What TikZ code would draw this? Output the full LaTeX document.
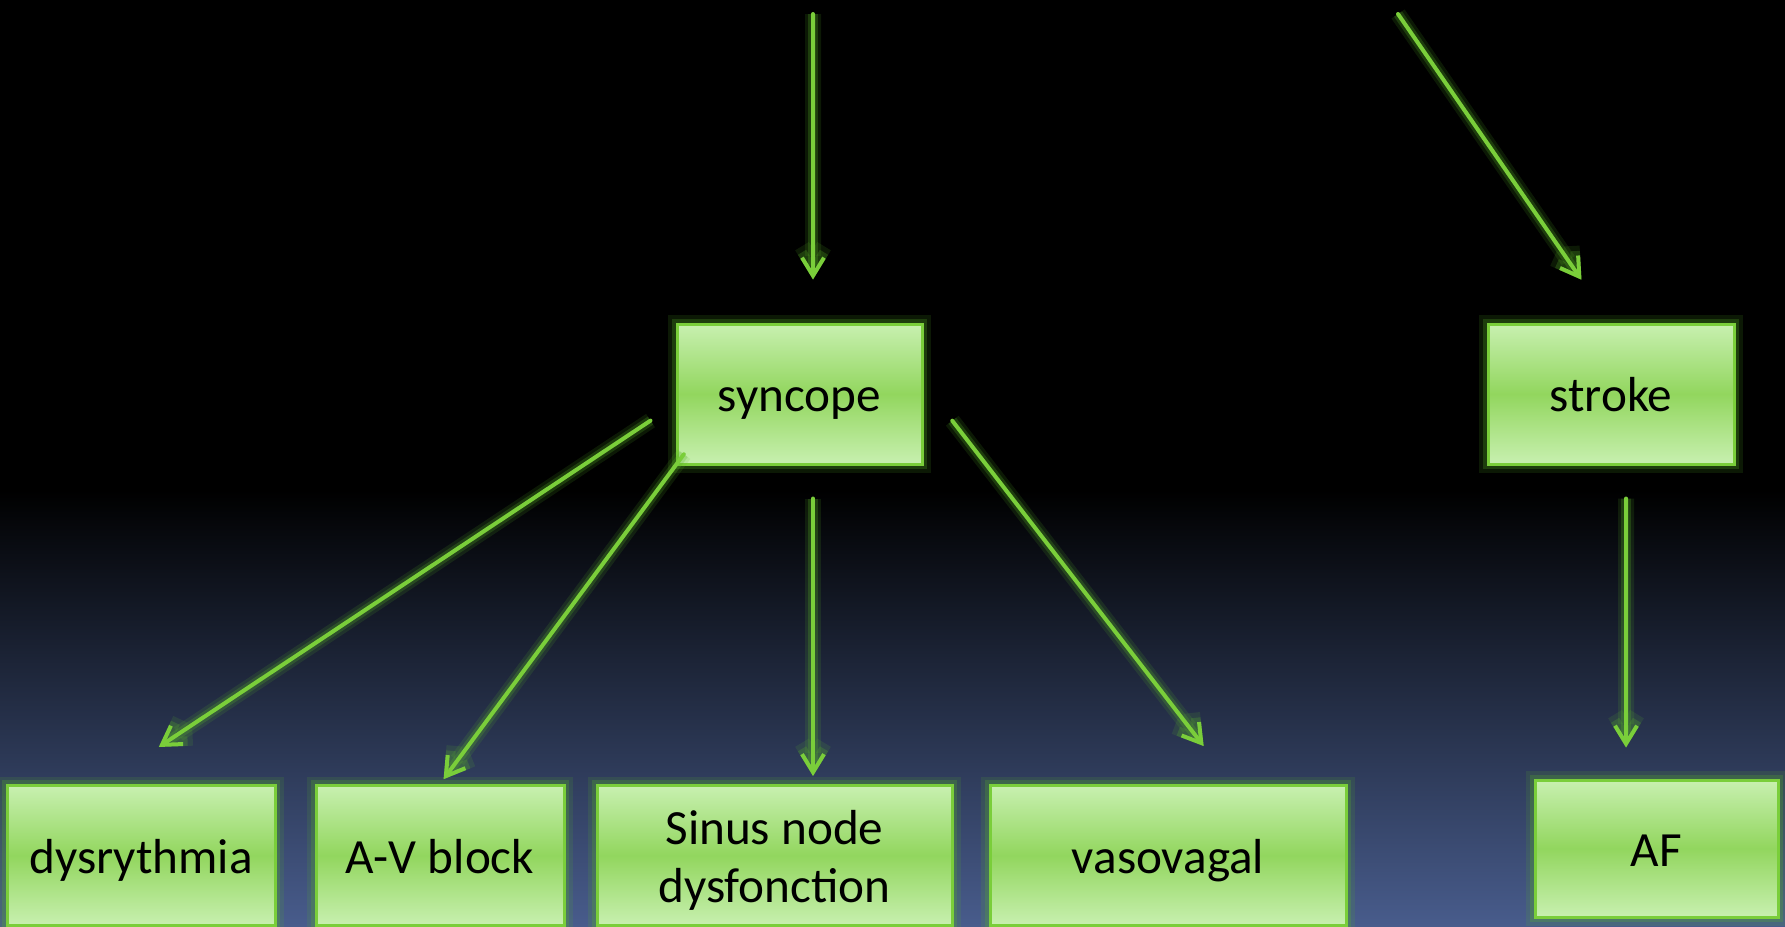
\documentclass[tikz,border=0pt]{standalone}
\usepackage{fontspec}
\setmainfont{Carlito}
\usetikzlibrary{arrows.meta, positioning, calc}

\definecolor{boxgreen}{RGB}{146,214,94}
\definecolor{boxlight}{RGB}{200,240,176}
\definecolor{linegreen}{RGB}{122,206,58}
\definecolor{glowgreen}{RGB}{90,180,40}
\definecolor{bgblue}{RGB}{72,92,140}

\tikzset{
    glow/.style={preaction={draw=glowgreen, line width=#1, opacity=0.14}, preaction={draw=glowgreen, line width=0.6*#1, opacity=0.24}},
    box/.style={rectangle, draw=linegreen, line width=0.03cm, top color=boxlight, bottom color=boxlight, middle color=boxgreen, text=black, align=center, inner sep=0pt, font=\fontsize{14}{16.5}\selectfont, glow=0.18cm},
    word/.style={box, text height=12pt, text depth=2pt},
    arrow/.style={-{Straight Barb[length=0.18cm, width=0.22cm]}, draw=linegreen, line width=0.04cm, line cap=round, glow=0.16cm}
}

\begin{document}
\begin{tikzpicture}
                        % background
                        \fill[black] (0, 0) rectangle (17.85, -4.9);
                        \shade[top color=black, bottom color=bgblue] (0, -4.9) rectangle (17.85, -9.26);
                        \useasboundingbox (0, 0) rectangle (17.85, -9.26);

                        \node[word, minimum width=2.45cm, minimum height=1.40cm] (syncope) at (7.995, -3.94) {syncope};
                        \node[word, minimum width=2.46cm, minimum height=1.40cm] (stroke) at (16.11, -3.94) {stroke};
                        \node[word, minimum width=2.68cm, minimum height=1.40cm] (dys) at (1.41, -8.555) {dysrythmia};
                        \node[word, minimum width=2.48cm, minimum height=1.40cm] (avb) at (4.40, -8.555) {A-V block};
                        \node[box, minimum width=3.55cm, minimum height=1.40cm, text height=28.5pt, text depth=2pt] (sinus) at (7.745, -8.555) {Sinus node\\dysfonction};
                        \node[word, minimum width=3.56cm, minimum height=1.40cm] (vaso) at (11.68, -8.555) {vasovagal};
                        \node[word, minimum width=2.43cm, minimum height=1.37cm] (af) at (16.565, -8.485) {AF};

                        \coordinate (top1) at (8.13, -0.14);
                        \coordinate (top2) at (13.98, -0.14);

                        \draw[arrow, shorten >=0.43cm] (top1) -- ([xshift=0.135cm]syncope.north);
                        \draw[arrow, shorten >=0.52cm] (top2) -- (stroke.north);
                        \draw[arrow, shorten <=0.30cm, shorten >=0.67cm] ([yshift=-0.10cm]syncope.west) -- ([xshift=-0.38cm]dys.north);
                        \draw[arrow, shorten <=-0.14cm, shorten >=0.06cm] (syncope.south west) -- (avb.north);
                        \draw[arrow, shorten <=0.33cm, shorten >=0.08cm] ([xshift=0.135cm]syncope.south) -- ([xshift=0.385cm]sinus.north);
                        \draw[arrow, shorten <=0.47cm, shorten >=0.48cm] ([yshift=0.105cm]syncope.east) -- ([xshift=0.65cm]vaso.north);
                        \draw[arrow, shorten <=0.33cm, shorten >=0.31cm] ([xshift=0.15cm]stroke.south) -- ([xshift=-0.305cm]af.north);
                    \end{tikzpicture}
\end{document}
